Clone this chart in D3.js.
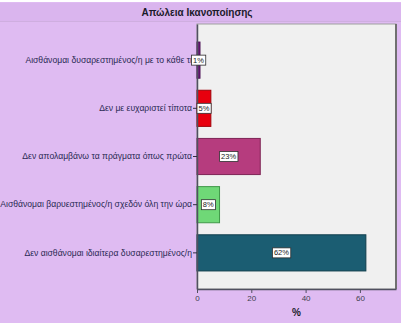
<!DOCTYPE html>
<html><head><meta charset="utf-8">
<script src="https://cdn.jsdelivr.net/npm/d3@7"></script>
<style>body{margin:0;background:#fff}svg{display:block}</style>
</head><body><svg id="c" width="402" height="328"></svg>
<script>
const title = "Απώλεια Ικανοποίησης";
const categories = [
  "Αισθάνομαι δυσαρεστημένος/η με το κάθε τι",
  "Δεν με ευχαριστεί τίποτα",
  "Δεν απολαμβάνω τα πράγματα όπως πρώτα",
  "Αισθάνομαι βαρυεστημένος/η σχεδόν όλη την ώρα",
  "Δεν αισθάνομαι ιδιαίτερα δυσαρεστημένος/η"
];
const values = [1.1, 5.1, 23.3, 8.3, 62.2];
const valueLabels = ["1%", "5%", "23%", "8%", "62%"];
const colors = ["#6a1b78", "#e8000e", "#b63c7e", "#6fd877", "#1b5d72"];
const strokes = ["#4a0f55", "#a00008", "#7e2455", "#3f9848", "#0f3d4c"];
const xTicks = [0, 20, 40, 60];
const xLabel = "%";

const svg = d3.select("#c");
const font = "'Liberation Sans', Arial, sans-serif";
svg.append("rect").attr("x",0).attr("y",2).attr("width",401).attr("height",321).attr("fill","#dfbbf2");
svg.append("rect").attr("x",0).attr("y",3).attr("width",401).attr("height",18).attr("fill","#dab5ee");
svg.append("line").attr("x1",0).attr("x2",401).attr("y1",21.5).attr("y2",21.5).attr("stroke","#cfaee0");

const pL = 197, pR = 396, pT = 24, pB = 289;
const x = d3.scaleLinear().domain([0, 73.3]).range([pL, pR]);
const y = d3.scaleBand().domain(categories).range([pT, pB]).paddingInner(0.25).paddingOuter(0.375);

svg.append("rect").attr("x",pL).attr("y",pT).attr("width",pR-pL).attr("height",pB-pT)
  .attr("fill","#f0f0f0").attr("stroke","#a0a0a0").attr("stroke-width",1);
svg.append("line").attr("x1",pR).attr("x2",pR).attr("y1",pT).attr("y2",pB).attr("stroke","#707070").attr("stroke-width",2);

svg.append("text").attr("x",197).attr("y",15.5).attr("text-anchor","middle")
  .attr("font-family",font).attr("font-size",10).attr("font-weight","bold").attr("fill","#1a1a2a").text(title);

svg.selectAll("rect.bar").data(categories).join("rect").attr("class","bar")
  .attr("x", x(0)).attr("y", d => y(d))
  .attr("width", (d,i) => x(values[i]) - x(0)).attr("height", y.bandwidth())
  .attr("fill", (d,i) => colors[i]).attr("stroke", (d,i) => strokes[i]).attr("stroke-width",1);

const yAxis = d3.axisLeft(y).tickSize(4).tickPadding(1).tickSizeOuter(0);
const gy = svg.append("g").attr("transform",`translate(${pL},0)`).call(yAxis);
gy.select(".domain").attr("stroke","#505060").attr("stroke-width",1.5);
gy.selectAll(".tick line").attr("stroke","#303040");
gy.selectAll(".tick text").attr("font-family",font).attr("font-size",8.6).attr("fill","#2a2a52");

const xAxis = d3.axisBottom(x).tickValues(xTicks).tickSize(4).tickPadding(2).tickSizeOuter(0);
const gx = svg.append("g").attr("transform",`translate(0,${pB})`).call(xAxis);
gx.select(".domain").attr("stroke","#505060").attr("stroke-width",1.5);
gx.selectAll(".tick line").attr("stroke","#505060");
gx.selectAll(".tick text").attr("font-family",font).attr("font-size",8).attr("fill","#404050");

svg.append("text").attr("x",(pL+pR)/2).attr("y",316).attr("text-anchor","middle")
  .attr("font-family",font).attr("font-size",10).attr("font-weight","bold").attr("fill","#1a1a2a").text(xLabel);

const lab = svg.append("g");
categories.forEach((c,i) => {
  const cx = (x(0) + x(values[i]))/2;
  const cy = y(c) + y.bandwidth()/2;
  const g = lab.append("g");
  const t = g.append("text").attr("x",cx).attr("y",cy+2.6).attr("text-anchor","middle")
    .attr("font-family",font).attr("font-size",7.5).attr("fill","#202020").text(valueLabels[i]);
  const bb = t.node().getBBox();
  g.insert("rect","text").attr("x",bb.x-1.5).attr("y",cy-5).attr("width",bb.width+3).attr("height",10)
    .attr("fill","#ffffff").attr("stroke","#303030").attr("stroke-width",0.8);
});
</script></body></html>
